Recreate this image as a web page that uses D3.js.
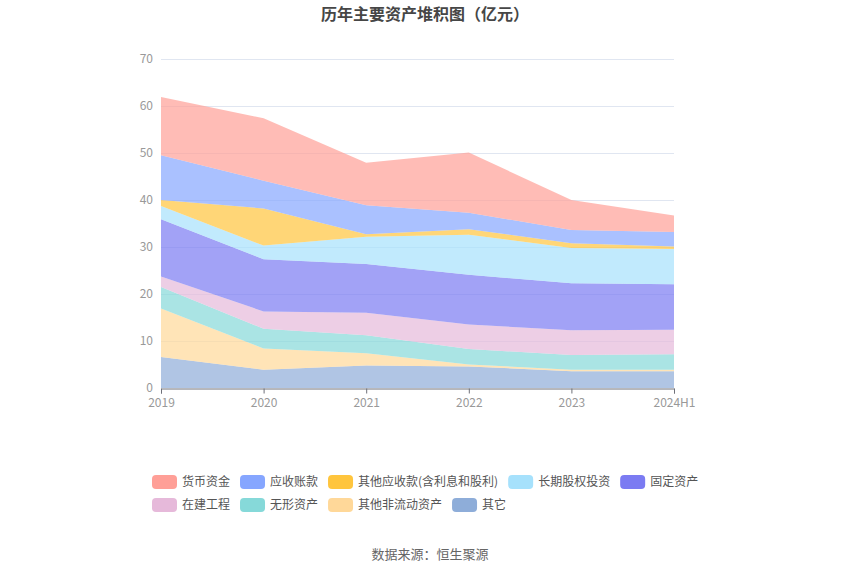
<!DOCTYPE html>
<html><head><meta charset="utf-8">
<script src="https://cdn.jsdelivr.net/npm/d3@7/dist/d3.min.js"></script>
<style>body{margin:0;background:#fff}svg{display:block;font-family:"Noto Sans CJK SC","Noto Sans",sans-serif}</style>
</head><body><svg id="c" width="850" height="575"></svg>
<script>
const categories = ["2019","2020","2021","2022","2023","2024H1"];
const seriesNames = ["货币资金","应收账款","其他应收款(含利息和股利)","长期股权投资","固定资产","在建工程","无形资产","其他非流动资产","其它"];
const colors = ["#FF9F97","#86A6FF","#FFC53D","#A6E1FC","#7B7BF2","#E6B9DA","#86D9D9","#FFD899","#8EADD9"];
const s_huobi   = [12.4, 13.3, 9.0, 12.8, 6.4, 3.5];
const s_yingshou= [9.5, 5.9, 6.2, 3.5, 2.8, 3.1];
const s_qitaYS  = [1.3, 7.9, 0.5, 1.2, 1.0, 0.5];
const s_changqi = [2.8, 2.9, 5.8, 8.5, 7.5, 7.5];
const s_guding  = [12.2, 11.1, 10.4, 10.6, 10.0, 9.7];
const s_zaijian = [2.2, 3.7, 4.8, 5.2, 5.3, 5.2];
const s_wuxing  = [4.6, 4.2, 3.8, 3.3, 3.1, 3.3];
const s_feiliu  = [10.3, 4.5, 2.6, 0.4, 0.35, 0.35];
const s_qita    = [6.6, 3.9, 4.8, 4.6, 3.55, 3.55];
const yTicks = [0,10,20,30,40,50,60,70];

const seriesValues = [s_huobi,s_yingshou,s_qitaYS,s_changqi,s_guding,s_zaijian,s_wuxing,s_feiliu,s_qita];
const svg = d3.select("#c");
const L=161,R=674,T=59,B=388;
const x = d3.scalePoint().domain(categories).range([L,R]);
const y = d3.scaleLinear().domain([0,70]).range([B,T]);

// title
svg.append("text").attr("x",425).attr("y",20).attr("text-anchor","middle")
  .attr("font-size",16).attr("font-weight","bold").attr("fill","#464646").text("历年主要资产堆积图（亿元）");

// grid
svg.append("g").selectAll("line").data(yTicks.filter(d=>d>0)).join("line")
  .attr("x1",L).attr("x2",R).attr("y1",d=>y(d)+0.5).attr("y2",d=>y(d)+0.5)
  .attr("stroke","#E0E6F1").attr("stroke-width",1);

// stack: bottom = last series
const rows = categories.map((c,i)=>{const o={cat:c}; seriesNames.forEach((n,k)=>o[n]=seriesValues[k][i]); return o;});
const keys = seriesNames.slice().reverse();
const stacked = d3.stack().keys(keys)(rows);
const area = d3.area().x(d=>x(d.data.cat)).y0(d=>y(d[0])).y1(d=>y(d[1]));
svg.append("g").selectAll("path").data(stacked).join("path")
  .attr("d",area).attr("fill",d=>colors[seriesNames.indexOf(d.key)]).attr("fill-opacity",0.7);

// y axis labels
const yAx = d3.axisLeft(y).tickValues(yTicks).tickSize(0).tickPadding(8);
const gy = svg.append("g").attr("transform",`translate(${L},0)`).call(yAx);
gy.select(".domain").remove();
gy.selectAll("text").attr("fill","#999").attr("font-size",12).attr("dy","0.3em").attr("font-family","'Noto Sans CJK SC',sans-serif");

// x axis
const xAx = d3.axisBottom(x).tickSize(5).tickPadding(5);
const gx = svg.append("g").attr("transform",`translate(0,${B+0.5})`).call(xAx);
gx.select(".domain").attr("stroke","#6E7079");
gx.selectAll("line").attr("stroke","#6E7079");
gx.selectAll("text").attr("fill","#999").attr("font-size",12).attr("font-family","'Noto Sans CJK SC',sans-serif");

// legend
const rowsLeg = [[0,1,2,3,4],[5,6,7,8]];
const legY = [482,505];
const lg = svg.append("g").attr("font-size",12);
const meas = svg.append("text").attr("font-size",12).attr("visibility","hidden");
rowsLeg.forEach((r,ri)=>{
  let cx = 152;
  r.forEach(k=>{
    const name = seriesNames[k];
    lg.append("rect").attr("x",cx).attr("y",legY[ri]-7).attr("width",25).attr("height",14)
      .attr("rx",4).attr("fill",colors[k]);
    lg.append("text").attr("x",cx+30).attr("y",legY[ri]).attr("dy","0.35em")
      .attr("fill","#555").text(name);
    meas.text(name);
    const w = meas.node().getComputedTextLength();
    cx += 25+5+w+10;
  });
});
meas.remove();

// source
svg.append("text").attr("x",430).attr("y",559).attr("text-anchor","middle")
  .attr("font-size",13).attr("fill","#666").text("数据来源：恒生聚源");
</script></body></html>
